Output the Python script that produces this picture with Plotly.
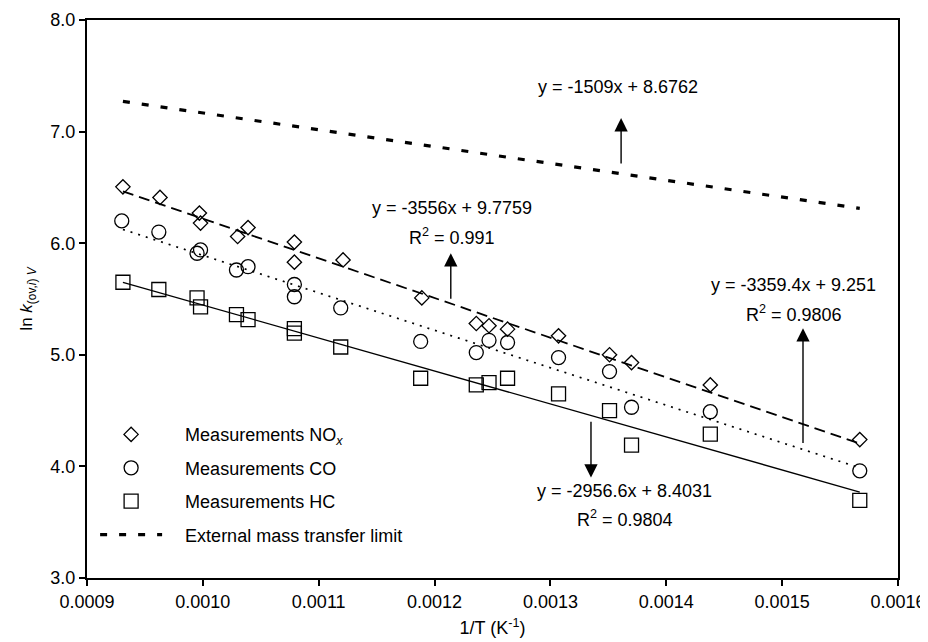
import plotly.graph_objects as go

# ---- data ----
nox_x = [0.000931, 0.000963, 0.000997, 0.000998, 0.001030, 0.001039, 0.001079, 0.001079,
         0.001121, 0.001189, 0.001236, 0.001247, 0.001263, 0.001307, 0.001351, 0.001370,
         0.001438, 0.001567]
nox_y = [6.505, 6.41, 6.27, 6.18, 6.06, 6.14, 6.01, 5.83,
         5.85, 5.51, 5.28, 5.26, 5.23, 5.17, 5.00, 4.93,
         4.73, 4.24]

co_x = [0.000930, 0.000962, 0.000998, 0.000995, 0.001029, 0.001039, 0.001079, 0.001079,
        0.001119, 0.001188, 0.001236, 0.001247, 0.001263, 0.001307, 0.001351, 0.001370,
        0.001438, 0.001567]
co_y = [6.20, 6.10, 5.94, 5.91, 5.76, 5.79, 5.63, 5.52,
        5.42, 5.12, 5.02, 5.13, 5.11, 4.975, 4.85, 4.53,
        4.49, 3.96]

hc_x = [0.000931, 0.000962, 0.000995, 0.000998, 0.001029, 0.001039, 0.001079, 0.001079,
        0.001119, 0.001188, 0.001236, 0.001247, 0.001263, 0.001307, 0.001351, 0.001370,
        0.001438, 0.001567]
hc_y = [5.65, 5.585, 5.51, 5.43, 5.36, 5.315, 5.235, 5.195,
        5.07, 4.79, 4.73, 4.75, 4.79, 4.65, 4.50, 4.19,
        4.29, 3.695]

# trend / limit lines (end points)
fit_x = [0.000931, 0.001567]
nox_fit = [6.465, 4.204]
co_fit = [6.123, 3.987]
hc_fit = [5.650, 3.770]
limit_y = [7.271, 6.312]

x_ticks = [0.0009, 0.0010, 0.0011, 0.0012, 0.0013, 0.0014, 0.0015, 0.0016]
y_ticks = [3.0, 4.0, 5.0, 6.0, 7.0, 8.0]

FONT = "Liberation Sans, Arial, Helvetica, sans-serif"
sp = "\u2002\u2002"

fig = go.Figure()

# lines (not in legend)
fig.add_trace(go.Scatter(x=fit_x, y=nox_fit, mode="lines", showlegend=False,
                         line=dict(color="black", width=1.8, dash="11px,6px"), hoverinfo="skip"))
fig.add_trace(go.Scatter(x=fit_x, y=co_fit, mode="lines", showlegend=False,
                         line=dict(color="black", width=1.7, dash="2px,6px"), hoverinfo="skip"))
fig.add_trace(go.Scatter(x=fit_x, y=hc_fit, mode="lines", showlegend=False,
                         line=dict(color="black", width=1.3), hoverinfo="skip"))

# markers
fig.add_trace(go.Scatter(x=nox_x, y=nox_y, mode="markers", name=sp + "Measurements NO<sub><i>x</i></sub>",
                         legendgroup="a",
                         marker=dict(symbol="diamond-open", size=11, color="black", line=dict(width=1.3))))
fig.add_trace(go.Scatter(x=co_x, y=co_y, mode="markers", name=sp + "Measurements CO",
                         legendgroup="b",
                         marker=dict(symbol="circle-open", size=14, color="black", line=dict(width=1.3))))
fig.add_trace(go.Scatter(x=hc_x, y=hc_y, mode="markers", name=sp + "Measurements HC",
                         legendgroup="c",
                         marker=dict(symbol="square-open", size=14, color="black", line=dict(width=1.3))))
fig.add_trace(go.Scatter(x=fit_x, y=limit_y, mode="lines", name=sp + "External mass transfer limit",
                         legendgroup="d",
                         line=dict(color="black", width=3.2, dash="7px,12px")))

ann = []
def txt(x, y, s):
    ann.append(dict(x=x, y=y, xref="x", yref="y", text=s, showarrow=False,
                    font=dict(family=FONT, size=18, color="black"), xanchor="center", yanchor="middle"))

def arrow(x, y_head, y_tail):
    ann.append(dict(x=x, y=y_head, xref="x", yref="y", ax=x, ay=y_tail, axref="x", ayref="y",
                    text="", showarrow=True, arrowhead=2, arrowsize=1.9, arrowwidth=1.4,
                    arrowcolor="black", standoff=0, startstandoff=0))

txt(0.001358, 7.399, "y = -1509x + 8.6762")
arrow(0.001361, 7.121, 6.70)
txt(0.001215, 6.313, "y = -3556x + 9.7759")
txt(0.001215, 6.063, "R<sup>2</sup> = 0.991")
arrow(0.001214, 5.91, 5.489)
txt(0.001510, 5.623, "y = -3359.4x + 9.251")
txt(0.001510, 5.373, "R<sup>2</sup> = 0.9806")
arrow(0.001518, 5.238, 4.197)
txt(0.001364, 3.784, "y = -2956.6x + 8.4031")
txt(0.001364, 3.534, "R<sup>2</sup> = 0.9804")
arrow(0.001335, 3.90, 4.413)

axis_common = dict(showline=True, linecolor="black", linewidth=2, mirror=True,
                   ticks="outside", ticklen=6, tickwidth=2, tickcolor="black",
                   showgrid=False, zeroline=False, automargin=False,
                   tickfont=dict(family=FONT, size=18, color="black"))

# the page adds an 8px body margin, so the figure is 8px smaller on each side
fig.update_layout(
    width=920, height=634,
    margin=dict(l=79, r=30, t=12, b=64),
    paper_bgcolor="white", plot_bgcolor="white",
    font=dict(family=FONT, size=18, color="black"),
    annotations=ann,
    showlegend=True,
    legend=dict(x=0.01, y=0.29, xanchor="left", yanchor="top",
                bgcolor="rgba(0,0,0,0)", borderwidth=0, itemwidth=62,
                tracegroupgap=7, font=dict(family=FONT, size=18, color="black")),
    xaxis=dict(range=[0.0009, 0.0016], tickvals=x_ticks,
               ticktext=[f"{v:.4f}" for v in x_ticks],
               title=dict(text="1/T (K<sup>-1</sup>)", standoff=11,
                          font=dict(family=FONT, size=18, color="black")),
               **axis_common),
    yaxis=dict(range=[3, 8], tickvals=y_ticks,
               ticktext=[f"{v:.1f}" for v in y_ticks],
               title=dict(text="ln <i>k</i><sub>(ov,<i>i</i>)</sub><sub> <i>V</i></sub>", standoff=13,
                          font=dict(family=FONT, size=17, color="black")),
               **axis_common),
)

fig.write_html("out.html")
